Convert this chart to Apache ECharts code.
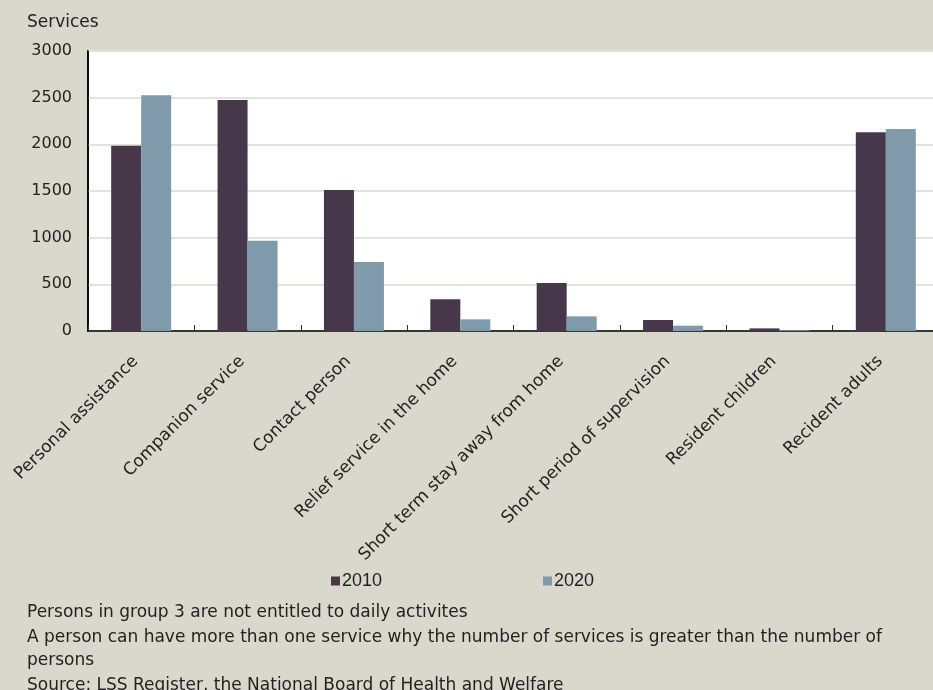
<!DOCTYPE html>
<html><head><meta charset="utf-8">
<script src="https://cdn.jsdelivr.net/npm/echarts@6/dist/echarts.min.js"></script>
<style>html,body{margin:0;padding:0;background:#dad8cc;}#c{width:933px;height:690px;}</style>
</head><body><div id="c"></div>
<script>
const categories = ["Personal assistance","Companion service","Contact person","Relief service in the home","Short term stay away from home","Short period of supervision","Resident children","Recident adults"];
const values2010 = [1985, 2475, 1510, 340, 515, 118, 28, 2130];
const values2020 = [2525, 968, 738, 125, 157, 57, 8, 2165];
const yTicks = [0, 500, 1000, 1500, 2000, 2500, 3000];
const seriesNames = ["2010", "2020"];
const notes = ["Persons in group 3 are not entitled to daily activites",
  "A person can have more than one service why the number of services is greater than the number of",
  "persons",
  "Source: LSS Register, the National Board of Health and Welfare"];

const FONT = '"DejaVu Sans", sans-serif';
const NARROW = '"Liberation Sans Narrow", "Liberation Sans", sans-serif';
const chart = echarts.init(document.getElementById('c'));
chart.setOption({
  backgroundColor: '#dad8cc',
  animation: false,
  grid: {left: 88, top: 51, width: 851, height: 280, show: true, backgroundColor: '#fff', borderColor: '#000', borderWidth: 1.5, containLabel: false, outerBoundsMode: 'none'},
  xAxis: {
    type: 'category', data: categories,
    axisLine: {lineStyle: {color: '#000', width: 1.5}},
    axisTick: {show: true, inside: true, length: 6, lineStyle: {color: '#333'}},
    axisLabel: {rotate: 45, interval: 0, color: '#222', fontFamily: FONT, fontSize: 17, margin: 22, padding: [0, 8, 0, 0]}
  },
  yAxis: {
    type: 'value', min: yTicks[0], max: yTicks[yTicks.length-1], interval: 500,
    axisLine: {show: true, lineStyle: {color: '#000', width: 1.5}},
    axisTick: {show: false},
    splitLine: {lineStyle: {color: '#e4e2dc', width: 2}},
    axisLabel: {color: '#222', fontFamily: FONT, fontSize: 16, margin: 16, formatter: v => String(v)}
  },
  legend: [
    {data: [seriesNames[0]], left: 326, top: 567, icon: 'rect', itemWidth: 9, itemHeight: 9,
     textStyle: {fontFamily: NARROW, fontSize: 18, color: '#222', padding: [0,0,0,-3]}},
    {data: [seriesNames[1]], left: 538, top: 567, icon: 'rect', itemWidth: 9, itemHeight: 9,
     textStyle: {fontFamily: NARROW, fontSize: 18, color: '#222', padding: [0,0,0,-3]}}
  ],
  graphic: [
    {type: 'text', left: 27, top: 14, style: {text: 'Services', font: '17px ' + FONT, fill: '#222'}},
    ...notes.map((t, i) => ({type: 'text', left: 27, top: [604, 629, 652, 677][i], style: {text: t, font: '17px ' + FONT, fill: '#222'}}))
  ],
  series: [
    {name: seriesNames[0], type: 'bar', data: values2010, barWidth: 30, barGap: '0%', itemStyle: {color: '#46374b'}},
    {name: seriesNames[1], type: 'bar', data: values2020, barWidth: 30, barGap: '0%', itemStyle: {color: '#7f9aab'}}
  ]
});
</script></body></html>
